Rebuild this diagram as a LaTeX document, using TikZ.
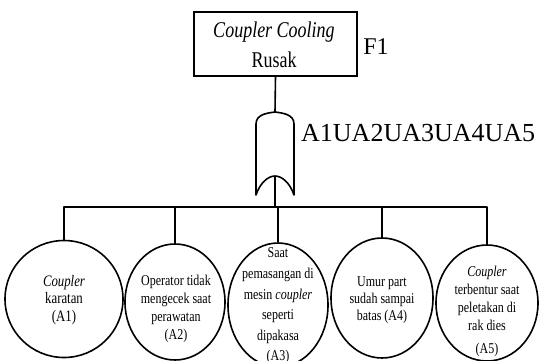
\documentclass[tikz,border=0pt]{standalone}
\usepackage{fontspec}
\setmainfont{Liberation Serif}
\newfontfamily\condserif[FakeStretch=0.8]{Liberation Serif}
\usetikzlibrary{shapes.geometric}
\tikzset{
  ln/.style={line width=1.6pt, line join=round},
  evt/.style={ellipse, draw, line width=1.6pt, inner sep=0pt},
  evttext/.style={align=center, inner sep=0pt, font=\condserif\fontsize{15}{18}\selectfont},
}
\begin{document}
\begin{tikzpicture}[x=1pt,y=-1pt]
\useasboundingbox (0,0) rectangle (539,360);
% top event
\node[draw, line width=1.6pt, minimum width=163pt, minimum height=64pt, inner sep=0pt] (top) at (275.5,44) {};
\node[align=center, inner sep=0pt, font=\condserif\fontsize{22.5}{30}\selectfont] (toptext) at (274,45) {\textit{Coupler Cooling}\\Rusak};
\node[anchor=center, font=\fontsize{24}{24}\selectfont, inner sep=0pt] (f1) at (376,47) {F1};
% OR gate
\coordinate (gtop) at (275,112);
\coordinate (gbot) at (275,176);
\draw[ln] (256,195) -- (256,124) .. controls (256,114) and (268,113) .. (gtop)
  .. controls (282,113) and (294,114) .. (294,124) -- (294,195)
  .. controls (290,183) and (282,176) .. (gbot)
  .. controls (268,176) and (260,183) .. (256,195) -- cycle;
\node[anchor=west, font=\fontsize{26}{26}\selectfont, inner sep=0pt] (glabel) at (301,133) {A1UA2UA3UA4UA5};
\draw[ln] (top.south) -- (gtop);
% basic events
\node[evt, minimum width=118pt, minimum height=117pt] (A1) at (64,299) {};
\node[evt, minimum width=100pt, minimum height=116pt] (A2) at (175,302) {};
\node[evt, minimum width=100pt, minimum height=124pt] (A3) at (278,305) {};
\node[evt, minimum width=102pt, minimum height=120pt] (A4) at (382,298) {};
\node[evt, minimum width=102pt, minimum height=116pt] (A5) at (487,303) {};
\coordinate (bus) at (275,207);
\draw[ln] (gbot) -- (bus);
\draw[ln] (A1.north) |- (bus) -| (A5.north);
\draw[ln] (A2.north) -- (A2.north |- bus);
\draw[ln] (A3.north) -- (A3.north |- bus);
\draw[ln] (A4.north) -- (A4.north |- bus);
\node[evttext, font=\condserif\fontsize{16}{17.5}\selectfont] (A1t) at (64,300) {\textit{Coupler}\\karatan\\(A1)};
\node[evttext] (A2t) at (176,309) {Operator tidak\\mengecek saat\\perawatan\\(A2)};
\node[evttext, font=\condserif\fontsize{15}{20.6}\selectfont] (A3t) at (278,306) {Saat\\pemasangan di\\mesin \textit{coupler}\\seperti\\dipakasa\\(A3)};
\node[evttext, font=\condserif\fontsize{15}{17}\selectfont] (A4t) at (382,300) {Umur part\\sudah sampai\\batas (A4)};
\node[evttext] (A5t) at (487,311) {\textit{Coupler}\\terbentur saat\\peletakan di\\rak dies\\[5pt](A5)};
\end{tikzpicture}
\end{document}
